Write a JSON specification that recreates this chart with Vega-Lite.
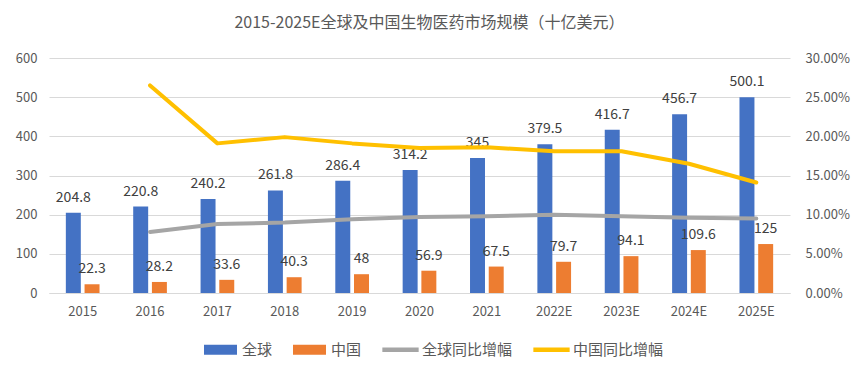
{
  "$schema": "https://vega.github.io/schema/vega-lite/v6.json",
  "autosize": {"type": "none"},
  "width": 741,
  "height": 235,
  "padding": {"left": 49, "top": 58, "right": 73, "bottom": 80},
  "background": "white",
  "title": {
    "text": "2015-2025E全球及中国生物医药市场规模（十亿美元）",
    "font": "Noto Sans CJK SC",
    "fontSize": 16,
    "fontWeight": "normal",
    "color": "#595959",
    "anchor": "middle",
    "frame": "group",
    "dx": 10,
    "offset": 21
  },
  "config": {
    "view": {"stroke": null},
    "font": "Noto Sans CJK SC",
    "axis": {"labelFont": "Noto Sans CJK SC", "labelColor": "#595959", "labelFontSize": 13, "ticks": false, "title": null}
  },
  "datasets": {
    "bars": [
      {"year": "2015", "series": "全球", "value": 204.8},
      {"year": "2015", "series": "中国", "value": 22.3},
      {"year": "2016", "series": "全球", "value": 220.8},
      {"year": "2016", "series": "中国", "value": 28.2},
      {"year": "2017", "series": "全球", "value": 240.2},
      {"year": "2017", "series": "中国", "value": 33.6},
      {"year": "2018", "series": "全球", "value": 261.8},
      {"year": "2018", "series": "中国", "value": 40.3},
      {"year": "2019", "series": "全球", "value": 286.4},
      {"year": "2019", "series": "中国", "value": 48},
      {"year": "2020", "series": "全球", "value": 314.2},
      {"year": "2020", "series": "中国", "value": 56.9},
      {"year": "2021", "series": "全球", "value": 345},
      {"year": "2021", "series": "中国", "value": 67.5},
      {"year": "2022E", "series": "全球", "value": 379.5},
      {"year": "2022E", "series": "中国", "value": 79.7},
      {"year": "2023E", "series": "全球", "value": 416.7},
      {"year": "2023E", "series": "中国", "value": 94.1},
      {"year": "2024E", "series": "全球", "value": 456.7},
      {"year": "2024E", "series": "中国", "value": 109.6},
      {"year": "2025E", "series": "全球", "value": 500.1},
      {"year": "2025E", "series": "中国", "value": 125}
    ],
    "lines": [
      {"year": "2016", "series": "全球同比增幅", "growth": 0.078},
      {"year": "2017", "series": "全球同比增幅", "growth": 0.088},
      {"year": "2018", "series": "全球同比增幅", "growth": 0.090},
      {"year": "2019", "series": "全球同比增幅", "growth": 0.094},
      {"year": "2020", "series": "全球同比增幅", "growth": 0.097},
      {"year": "2021", "series": "全球同比增幅", "growth": 0.098},
      {"year": "2022E", "series": "全球同比增幅", "growth": 0.100},
      {"year": "2023E", "series": "全球同比增幅", "growth": 0.098},
      {"year": "2024E", "series": "全球同比增幅", "growth": 0.096},
      {"year": "2025E", "series": "全球同比增幅", "growth": 0.095},
      {"year": "2016", "series": "中国同比增幅", "growth": 0.265},
      {"year": "2017", "series": "中国同比增幅", "growth": 0.191},
      {"year": "2018", "series": "中国同比增幅", "growth": 0.199},
      {"year": "2019", "series": "中国同比增幅", "growth": 0.191},
      {"year": "2020", "series": "中国同比增幅", "growth": 0.185},
      {"year": "2021", "series": "中国同比增幅", "growth": 0.186},
      {"year": "2022E", "series": "中国同比增幅", "growth": 0.181},
      {"year": "2023E", "series": "中国同比增幅", "growth": 0.181},
      {"year": "2024E", "series": "中国同比增幅", "growth": 0.165},
      {"year": "2025E", "series": "中国同比增幅", "growth": 0.141}
    ]
  },
  "encoding": {
    "x": {
      "field": "year",
      "type": "nominal",
      "scale": {
        "domain": ["2015", "2016", "2017", "2018", "2019", "2020", "2021", "2022E", "2023E", "2024E", "2025E"],
        "paddingInner": 0.5,
        "paddingOuter": 0.25
      },
      "axis": {"labelAngle": 0, "domainColor": "#d9d9d9", "domainWidth": 1, "labelPadding": 12, "grid": false}
    }
  },
  "layer": [
    {
      "data": {"name": "bars"},
      "encoding": {
        "y": {
          "field": "value",
          "type": "quantitative",
          "scale": {"domain": [0, 600], "nice": false},
          "axis": {"values": [0, 100, 200, 300, 400, 500, 600], "grid": true, "gridColor": "#d9d9d9", "domain": false, "labelPadding": 12, "orient": "left"}
        },
        "xOffset": {"field": "series", "type": "nominal", "scale": {"domain": ["全球", "中国"], "paddingInner": 0.2, "paddingOuter": 0}}
      },
      "layer": [
        {
          "mark": {"type": "bar"},
          "encoding": {
            "color": {
              "field": "series",
              "type": "nominal",
              "scale": {"domain": ["全球", "中国", "全球同比增幅", "中国同比增幅"], "range": ["#4472C4", "#ED7D31", "#A5A5A5", "#FFC000"]},
              "legend": {
                "title": null,
                "orient": "none",
                "direction": "horizontal",
                "legendX": 155,
                "legendY": 275,
                "labelFont": "Noto Sans CJK SC",
                "labelFontSize": 15,
                "labelColor": "#595959",
                "labelOffset": 5,
                "columnPadding": 20,
                "symbolSize": 1089,
                "encode": {
                  "symbols": {
                    "update": {
                      "shape": {"signal": "indexof(['全球','中国'], datum.value) >= 0 ? 'M-1,-0.3H1V0.3H-1Z' : 'M-1.1,-0.13H1.1V0.13H-1.1Z'"},
                      "fill": {"scale": "color", "field": "value"},
                      "strokeWidth": {"value": 0},
                      "opacity": {"value": 1},
                      "fillOpacity": {"value": 1}
                    }
                  }
                }
              }
            }
          }
        },
        {
          "mark": {"type": "text", "baseline": "bottom", "dy": -8, "fontSize": 14, "color": "#404040", "font": "Noto Sans CJK SC"},
          "encoding": {"text": {"field": "value", "type": "quantitative"}}
        }
      ]
    },
    {
      "data": {"name": "lines"},
      "mark": {"type": "line", "strokeWidth": 4, "strokeCap": "round", "strokeJoin": "round"},
      "encoding": {
        "y": {
          "field": "growth",
          "type": "quantitative",
          "scale": {"domain": [0, 0.3], "nice": false},
          "axis": {"orient": "right", "values": [0, 0.05, 0.1, 0.15, 0.2, 0.25, 0.3], "format": ".2%", "grid": false, "domain": false, "labelPadding": 15}
        },
        "color": {
          "field": "series",
          "type": "nominal",
          "scale": {"domain": ["全球", "中国", "全球同比增幅", "中国同比增幅"], "range": ["#4472C4", "#ED7D31", "#A5A5A5", "#FFC000"]}
        }
      }
    }
  ],
  "resolve": {"scale": {"y": "independent"}}
}
